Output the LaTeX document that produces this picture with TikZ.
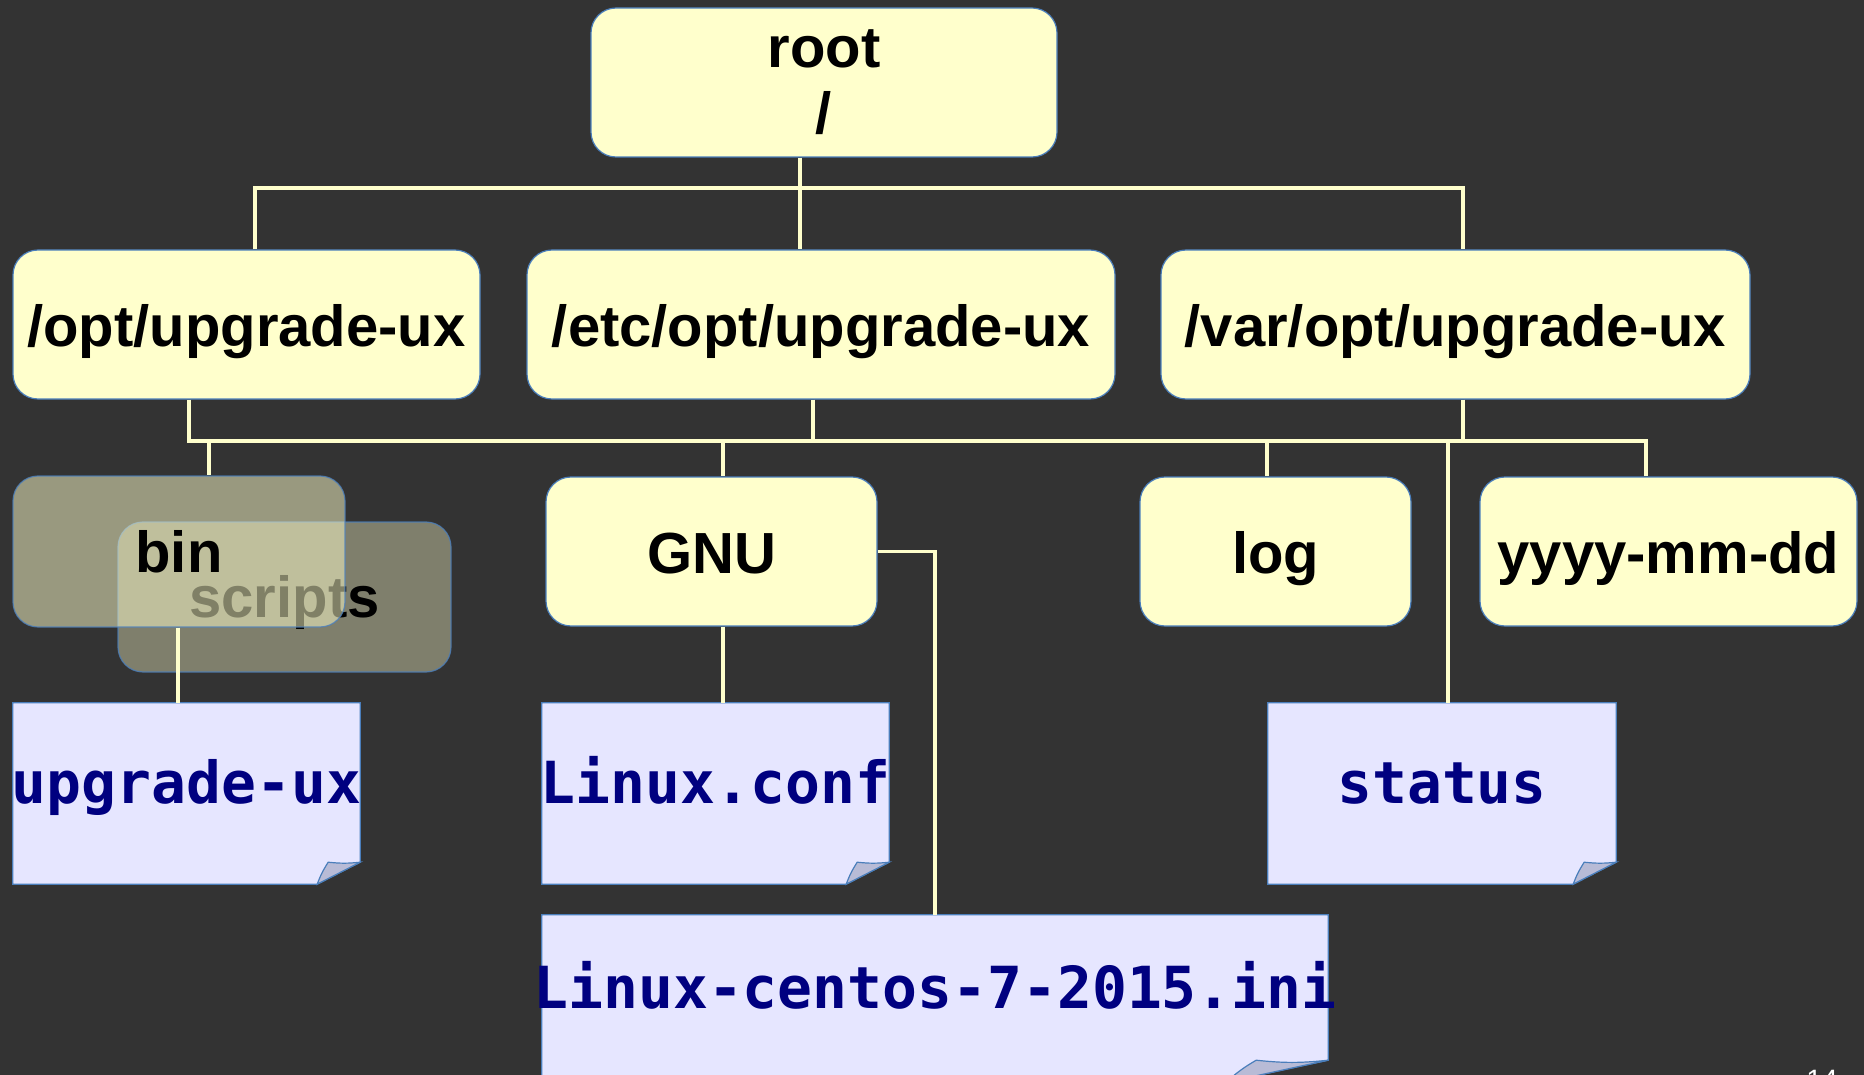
\documentclass[tikz,border=0pt]{standalone}
\usepackage{fontspec}
\setmainfont{Liberation Sans}
\newfontfamily\monofam{DejaVu Sans Mono}
\definecolor{bgc}{HTML}{333333}
\definecolor{boxfill}{HTML}{FFFFCC}
\definecolor{boxline}{HTML}{4A7EBB}
\definecolor{connc}{HTML}{FFFFCC}
\definecolor{filebg}{HTML}{E6E6FF}
\definecolor{foldbg}{HTML}{B8BBD6}
\definecolor{filetext}{HTML}{000080}
\pgfdeclarelayer{bg}
\pgfdeclarelayer{mid}
\pgfsetlayers{bg,mid,main}
\newcommand\myfile[3]{%
  \path[fileline, fill=filebg] (#1.north west) -- (#1.north east) -- ([yshift=22pt]#1.south east) -- ([xshift=-#2pt]#1.south east) -- (#1.south west) -- cycle;
  \path[fileline, fill=foldbg] ([xshift=-#2pt]#1.south east) to[bend left=6] ([xshift=-#3pt,yshift=22pt]#1.south east) to[bend right=6] ([yshift=22pt]#1.south east) -- cycle;
}
\tikzset{
  dirbox/.style={draw=boxline, line width=1.2pt, fill=boxfill, rounded corners=25pt, inner sep=0pt,
    font=\fontsize{58}{66}\selectfont\bfseries, text=black},
  oneline/.style={text height=#1, text depth=0pt},
  filenode/.style={inner sep=0pt, font=\monofam\fontsize{58}{66}\selectfont\bfseries, text=filetext,
    text height=19pt, text depth=0pt},
  fileline/.style={draw=boxline, line width=1.2pt, line join=miter},
  conn/.style={draw=connc, line width=3.3pt, line join=miter},
}
\begin{document}
\begin{tikzpicture}[x=1pt, y=-1pt]
\begin{pgfonlayer}{bg}
  \fill[bgc] (0,0) rectangle (1864,1075);
\end{pgfonlayer}
\useasboundingbox (0,0) rectangle (1864,1075);

% root
\node[dirbox, align=center, minimum width=466pt, minimum height=149pt] (root) at (824,82.5) {root\\/};

% level 2
\node[dirbox, oneline=45pt, minimum width=467pt, minimum height=149pt] (opt) at (246.5,324.5) {/opt/upgrade-ux};
\node[dirbox, oneline=45pt, minimum width=588pt, minimum height=149pt] (etc) at (821,324.5) {/etc/opt/upgrade-ux};
\node[dirbox, oneline=45pt, minimum width=589pt, minimum height=149pt] (var) at (1455.5,324.5) {/var/opt/upgrade-ux};

% level 3
\node[dirbox, oneline=40pt, fill opacity=0.375, text opacity=1, draw opacity=0.8, minimum width=333pt, minimum height=150pt] (scripts) at (284.5,597) {scripts};
\node[dirbox, oneline=41pt, fill opacity=0.5, text opacity=1, draw opacity=0.8, minimum width=332pt, minimum height=151pt] (bin) at (179,551.5) {bin};
\node[dirbox, oneline=43pt, minimum width=331pt, minimum height=149pt] (GNU) at (711.5,551.5) {GNU};
\node[dirbox, oneline=43pt, minimum width=271pt, minimum height=149pt] (log) at (1275.5,551.5) {log};
\node[dirbox, oneline=43pt, minimum width=377pt, minimum height=149pt] (yyyy) at (1668.5,551.5) {yyyy-mm-dd};

% files
\node[filenode, minimum width=347pt, minimum height=181pt] (upg) at (186.5,793.5) {\makebox[347pt][c]{upgrade-ux}};
\node[filenode, minimum width=347pt, minimum height=181pt] (lconf) at (715.5,793.5) {\makebox[347pt][c]{Linux.conf}};
\node[filenode, minimum width=348pt, minimum height=181pt] (status) at (1442,793.5) {\makebox[348pt][c]{status}};
\node[filenode, minimum width=786pt, minimum height=167pt] (centos) at (935,998.5) {\makebox[786pt][c]{Linux-centos-7-2015.ini}};
\begin{pgfonlayer}{mid}
  \myfile{upg}{43}{32}
  \myfile{lconf}{43}{32}
  \myfile{status}{43}{32}
  \myfile{centos}{102}{72}
\end{pgfonlayer}

% connectors
\coordinate (j1) at (800,188);
\draw[conn] ([xshift=-24pt]root.south) -- ([xshift=-21pt]etc.north);
\draw[conn] ([xshift=8.5pt]opt.north) |- (j1) -| ([xshift=7.5pt]var.north);

\coordinate (j2) at (813,441);
\draw[conn] ([xshift=-57.5pt]opt.south) |- (j2) -| ([xshift=-22.5pt]yyyy.north);
\draw[conn] ([xshift=-8pt]etc.south) -- (j2);
\coordinate (vb) at ([xshift=7.5pt]var.south);
\draw[conn] (vb) -- (vb |- j2);
\coordinate (bt) at ([xshift=30pt]bin.north);
\draw[conn] (bt |- j2) -- (bt);
\coordinate (gt) at ([xshift=11.5pt]GNU.north);
\draw[conn] (gt |- j2) -- (gt);
\coordinate (lt) at ([xshift=-8.5pt]log.north);
\draw[conn] (lt |- j2) -- (lt);
\coordinate (stt) at ([xshift=6pt]status.north);
\draw[conn] (stt |- j2) -- (stt);

\draw[conn] ([xshift=-1pt]bin.south) -- ([xshift=-8.5pt]upg.north);
\draw[conn] ([xshift=11.5pt]GNU.south) -- ([xshift=7.5pt]lconf.north);
\draw[conn] (GNU.east) -| (centos.north);

% page number (cut off by the lower edge, as in the reference)
\node[font=\fontsize{28}{30}\selectfont, text=white, anchor=base, inner sep=0pt] (pnum) at (1822,1089) {14};
\end{tikzpicture}
\end{document}
